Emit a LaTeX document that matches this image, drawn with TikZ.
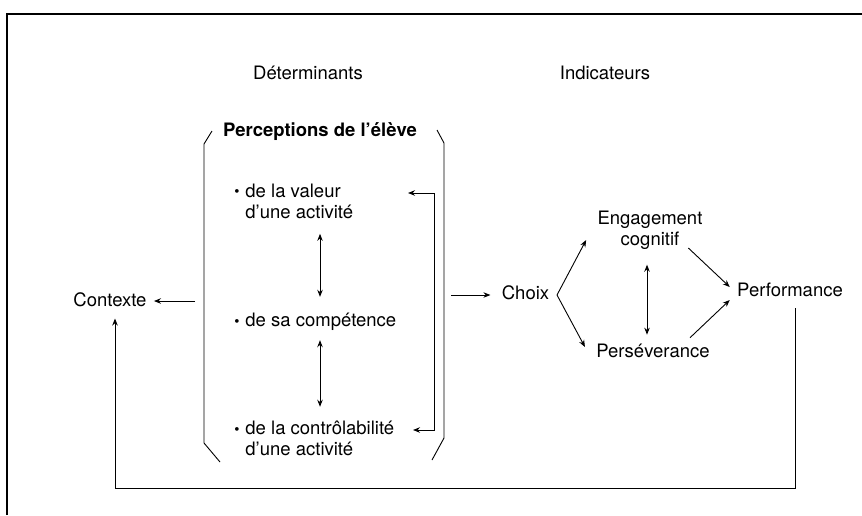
\documentclass[tikz,border=0pt]{standalone}
\usepackage{fontspec}
\setmainfont{TeX Gyre Heros}
\usepackage{tikz}
\usetikzlibrary{arrows.meta}
\usetikzlibrary{calc}

\begin{document}
\begin{tikzpicture}[
	x=1pt, y=-1pt,
	line width=0.9pt,
	font=\fontsize{18.5}{21}\selectfont
]
\tikzset{
    lbl/.style = {inner sep=1pt, align=center},
    item/.style = {inner sep=1pt, align=left, anchor=west},
    arr/.style = {-{Stealth[length=7pt,width=5.5pt]}},
    dbl/.style = {{Stealth[length=7pt,width=5.5pt]}-{Stealth[length=7pt,width=5.5pt]}}
}
\newcommand{\puce}{\leavevmode\llap{\raisebox{0.5pt}{\scalebox{0.8}{\textbullet}}\hspace{6pt}}}
\useasboundingbox (0,0) rectangle (862,515);
% cadre
\draw[line width=1.3pt] (7,515) -- (7,14) -- (862,14);
\node[lbl] (det) at (308,73) {Déterminants};
\node[lbl] (ind) at (605,73) {Indicateurs};
% accolade
\draw (212,131) -- (204,144) -- (204,443) -- (220,462);
\draw (437,130) -- (444,143) -- (444,438) -- (432,460);
\node[lbl,font=\fontsize{18.5}{21}\selectfont\bfseries] (perc) at (320,132) {Perceptions de l'élève};
\node[item] (val) at (244,201) {\puce de la valeur\\d'une activité};
\node[item] (comp) at (244,322) {\puce de sa compétence};
\node[item] (ctrl) at (244,438.6) {\puce de la contrôlabilité\\d'une activité};
\coordinate (ax) at (320,0);
\draw[dbl, shorten <=14pt, shorten >=15pt] (val.south -| ax) -- (comp.north -| ax);
\draw[dbl, shorten <=8pt, shorten >=13pt] (comp.south -| ax) -- (ctrl.north -| ax);
\coordinate (vin) at (408,193);
\coordinate (cin) at (413,430);
\draw[dbl] (vin) -- (434,193) -- (434,430) -- (cin);
% gauche
\node[lbl] (ctx) at (110,300) {Contexte};
\coordinate (bl) at (195,301);
\draw[arr, shorten >=6pt] (bl) -- (ctx.east |- bl);
% droite
\node[lbl] (choix) at (525.5,293) {Choix};
\coordinate (br) at (451,295);
\draw[arr, shorten >=10pt] (br) -- (choix.west |- br);
\node[lbl] (eng) at (650,230) {Engagement\\cognitif};
\node[lbl] (pers) at (653,351) {Perséverance};
\node[lbl] (perf) at (790,290) {Performance};
\coordinate (fork) at (557,295);
\draw[arr] (fork) -- ($(eng.west)+(-10,10)$);
\draw[arr] (fork) -- ($(pers.west)+(-10,-4)$);
\coordinate (dx) at (647,0);
\draw[dbl, shorten <=14pt, shorten >=8pt] (eng.south -| dx) -- (pers.north -| dx);
\draw[arr] ($(eng.south east)+(-15.5,-2.7)$) -- ($(perf.west)+(-6,-3)$);
\draw[arr] ($(pers.north east)+(-21,-5)$) -- ($(perf.west)+(-6,10)$);
% retour
\coordinate (fbR) at (795,488);
\coordinate (fbL) at (115,488);
\draw[arr, shorten <=10pt, shorten >=10pt] (perf.south -| fbR) -- (fbR) -- (fbL) -- (ctx.south -| fbL);
\end{tikzpicture}
\end{document}
